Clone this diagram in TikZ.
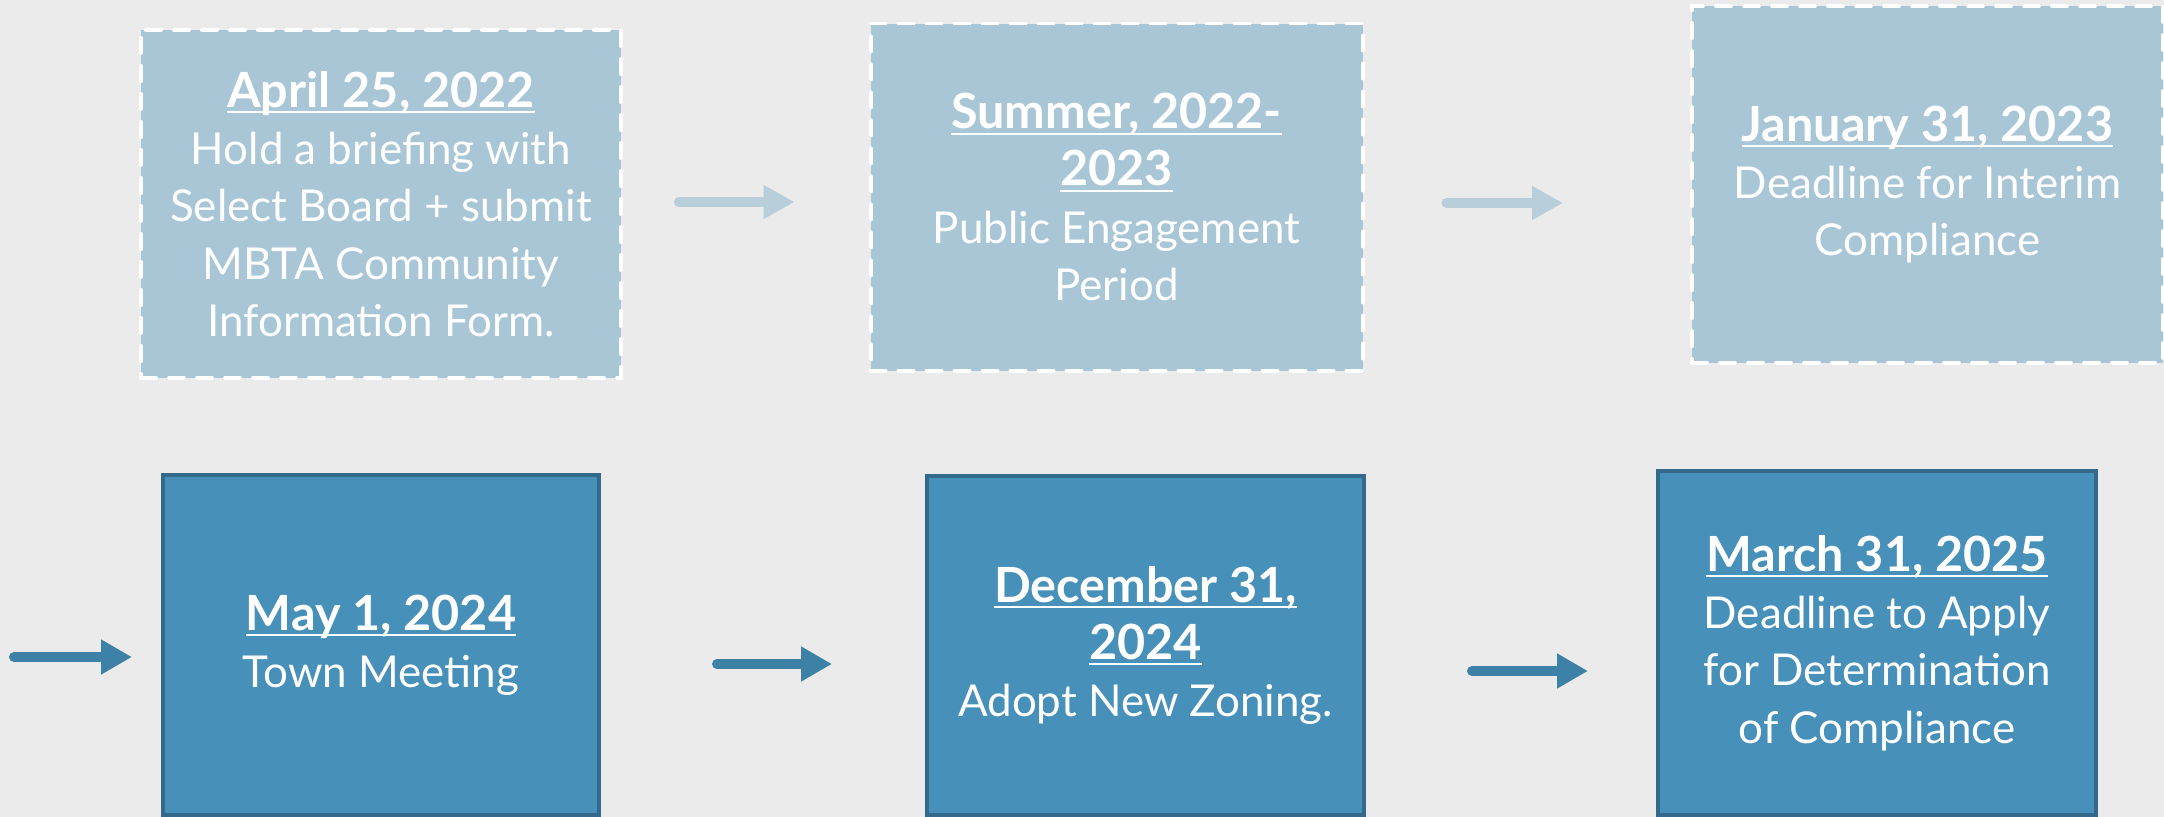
\documentclass[tikz,border=0pt]{standalone}
\usepackage{fontspec}
\setmainfont{Lato}
\usetikzlibrary{arrows.meta}
\definecolor{slidebg}{HTML}{EBEBEB}
\definecolor{palefill}{HTML}{A9C6D7}
\definecolor{palearrow}{HTML}{B8CEDA}
\definecolor{deepfill}{HTML}{4690BA}
\definecolor{deepline}{HTML}{33698B}
\definecolor{deeparrow}{HTML}{3E81A6}
\newcommand{\dateline}[1]{{\fontsize{13.8}{16.3}\selectfont\bfseries\setbox0\hbox{#1}\rlap{\rule[-1.7pt]{\wd0}{0.6pt}}\box0}}

\begin{document}
\begin{tikzpicture}[
  every node/.style={font=\fontsize{12.5}{16.3}\selectfont, text=white, align=center, inner sep=0pt},
  planbox/.style={rectangle, fill=palefill, draw=white, line width=0.04cm, dash pattern=on 0.15cm off 0.13cm, line cap=round},
  donebox/.style={rectangle, fill=deepfill, draw=deepline, line width=0.04cm},
  planarrow/.style={draw=palearrow, line width=0.1cm, line cap=round, -{Triangle[length=0.31cm, width=0.32cm]}},
  donearrow/.style={draw=deeparrow, line width=0.1cm, line cap=round, -{Triangle[length=0.31cm, width=0.33cm]}}
]
\fill[slidebg] (0,0) rectangle (21.64,-8.17);
\useasboundingbox (0,0) rectangle (21.64,-8.17);

% top row
\node [planbox, minimum width=4.80cm, minimum height=3.48cm] (apr) at (3.81,-2.04)
  {\dateline{April 25, 2022}\\ Hold a briefing with\\ Select Board + submit\\ MBTA Community\\ Information Form.};
\node [planbox, minimum width=4.92cm, minimum height=3.47cm] (summer) at (11.165,-1.97)
  {\dateline{Summer, 2022-}\\ \dateline{2023}\\ Public Engagement\\ Period};
\node [planbox, minimum width=4.71cm, minimum height=3.57cm] (jan) at (19.275,-1.845)
  {\dateline{January 31, 2023}\\ Deadline for Interim\\ Compliance};

% bottom row
\node [donebox, minimum width=4.36cm, minimum height=3.40cm] (may) at (3.81,-6.45)
  {\dateline{May 1, 2024}\\ Town Meeting};
\node [donebox, minimum width=4.37cm, minimum height=3.39cm] (dec) at (11.455,-6.455)
  {\dateline{December 31,}\\ \dateline{2024}\\ Adopt New Zoning.};
\node [donebox, minimum width=4.38cm, minimum height=3.44cm] (mar) at (18.77,-6.43)
  {\dateline{March 31, 2025}\\ Deadline to Apply\\ for Determination\\ of Compliance};

\coordinate (lead) at (0.14,-6.57);

\draw [planarrow, shorten <=0.56cm, shorten >=0.74cm] (apr.east |- 0,-2.02) -- (summer.west |- 0,-2.02);
\draw [planarrow, shorten <=0.82cm, shorten >=1.27cm] (summer.east |- 0,-2.03) -- (jan.west |- 0,-2.03);
\draw [donearrow, shorten >=0.29cm] (lead) -- (may.west |- lead);
\draw [donearrow, shorten <=1.16cm, shorten >=0.93cm] (may.east |- 0,-6.64) -- (dec.west |- 0,-6.64);
\draw [donearrow, shorten <=1.06cm, shorten >=0.68cm] (dec.east |- 0,-6.71) -- (mar.west |- 0,-6.71);
\end{tikzpicture}
\end{document}
